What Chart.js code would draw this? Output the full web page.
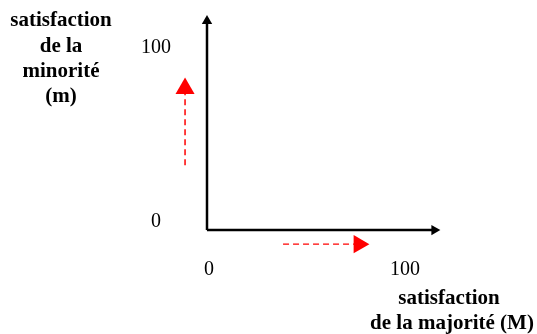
<!DOCTYPE html>
<html>
<head>
<meta charset="utf-8">
<script src="https://cdn.jsdelivr.net/npm/chart.js@4.4.0/dist/chart.umd.min.js"></script>
<style>
  html, body { margin: 0; padding: 0; background: #fff; }
  #wrap { width: 537px; height: 334px; }
</style>
</head>
<body>
<div id="wrap"><canvas id="chart"></canvas></div>
<script>
// tick labels on both axes
const tickValues = [0, 100];
const tickLabels = ['0', '100'];

// axis titles (lines)
const yTitle = ['satisfaction', 'de la', 'minorité', '(m)'];
const xTitle = ['satisfaction', 'de la majorité (M)'];

// black axes with arrowheads (data units)
const xAxisLine = [{ x: 0, y: 0 }, { x: 116, y: 0 }];
const yAxisLine = [{ x: 0, y: 0 }, { x: 0, y: 114.5 }];

// red dashed arrows (data units)
const upArrow = [{ x: -11.2, y: 35.5 }, { x: -11.2, y: 77.5 }];
const rightArrow = [{ x: 38.8, y: -7.7 }, { x: 77.5, y: -7.7 }];

const serif = '"Liberation Serif", "DejaVu Serif", serif';

const labelsPlugin = {
  id: 'labels',
  afterDraw(chart) {
    const ctx = chart.ctx;
    const xs = chart.scales.x, ys = chart.scales.y;
    ctx.save();
    ctx.fillStyle = '#000';
    ctx.textAlign = 'center';
    ctx.textBaseline = 'middle';

    // tick labels
    ctx.font = '20px ' + serif;
    tickValues.forEach((v, i) => {
      const yOff = v === 0 ? -8 : 0;
      ctx.fillText(tickLabels[i], 156, ys.getPixelForValue(v) + yOff);
      ctx.fillText(tickLabels[i], xs.getPixelForValue(v) + 2, 270);
    });

    // axis titles
    ctx.font = 'bold 21px ' + serif;
    const yLines = [21, 47, 72, 97];
    yTitle.forEach((t, i) => ctx.fillText(t, 61, yLines[i]));
    const xLines = [299, 324];
    const xCenters = [449, 452];
    xTitle.forEach((t, i) => ctx.fillText(t, xCenters[i], xLines[i]));
    ctx.restore();
  }
};

function arrow(data, color, dash, width, headR, rot) {
  return {
    data: data,
    showLine: true,
    borderColor: color,
    backgroundColor: color,
    borderWidth: width,
    borderDash: dash,
    pointRadius: [0, headR],
    pointHoverRadius: [0, headR],
    pointStyle: 'triangle',
    rotation: rot,
    pointBorderWidth: 0,
    clip: false
  };
}

new Chart(document.getElementById('chart'), {
  type: 'scatter',
  data: {
    datasets: [
      arrow(yAxisLine, '#000', [], 2.5, 6, 0),
      arrow(xAxisLine, '#000', [], 2.5, 6, 90),
      arrow(upArrow, '#ff0000', [6, 4], 1.5, 11, 0),
      arrow(rightArrow, '#ff0000', [6, 4], 1.3, 10.5, 90)
    ]
  },
  options: {
    responsive: true,
    maintainAspectRatio: false,
    animation: false,
    layout: { padding: { left: 167.8, right: 94.8, top: 10.4, bottom: 67.4 } },
    scales: {
      x: { type: 'linear', min: -20, max: 120, display: false },
      y: { type: 'linear', min: -20, max: 120, display: false }
    },
    plugins: {
      legend: { display: false },
      tooltip: { enabled: false },
      title: { display: false }
    }
  },
  plugins: [labelsPlugin]
});
</script>
</body>
</html>
